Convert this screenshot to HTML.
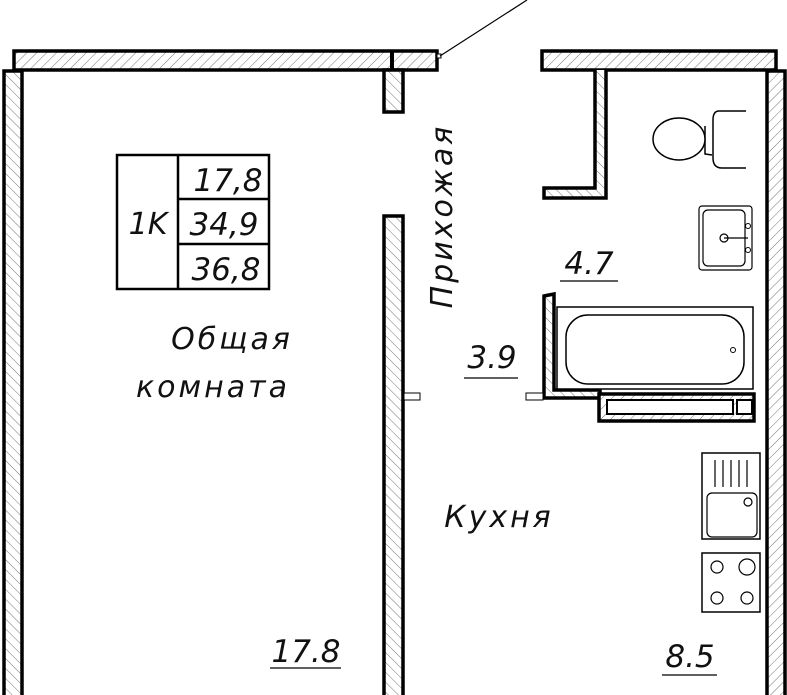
<!DOCTYPE html>
<html><head><meta charset="utf-8"><style>
body{margin:0;background:#fff}
svg{display:block}
text{font-family:"DejaVu Sans","Liberation Sans",sans-serif;font-style:oblique;fill:#111}
.l{letter-spacing:3px}
</style></head><body>
<svg width="787" height="695" viewBox="0 0 787 695" xmlns="http://www.w3.org/2000/svg">
<defs>
<pattern id="h1" width="7" height="7" patternUnits="userSpaceOnUse" patternTransform="rotate(45)"><rect width="7" height="7" fill="#fff"/><line x1="0" y1="0" x2="0" y2="7" stroke="#777" stroke-width="1"/></pattern>
<pattern id="h2" width="7" height="7" patternUnits="userSpaceOnUse" patternTransform="rotate(-45)"><rect width="7" height="7" fill="#fff"/><line x1="0" y1="0" x2="0" y2="7" stroke="#777" stroke-width="1"/></pattern>
</defs>
<g stroke="#000" stroke-width="3.5">
<rect x="14" y="51" width="423" height="19" fill="url(#h1)"/>
<rect x="4" y="71" width="18" height="630" fill="url(#h2)"/>
<rect x="384" y="70" width="19" height="42" fill="url(#h2)"/>
<rect x="384" y="216" width="19" height="485" fill="url(#h2)"/>
<rect x="542" y="51" width="234" height="19" fill="url(#h1)"/>
<rect x="767" y="71" width="18" height="630" fill="url(#h1)"/>
<path d="M595 70 V188 H544 V198 H606 V70" fill="url(#h2)"/>
<path d="M544 296 L554 294 V390 H600 V398 H544 Z" fill="url(#h2)"/>
<rect x="599" y="394" width="155" height="27" fill="url(#h1)"/>
</g>
<line x1="392" y1="51" x2="392" y2="70" stroke="#000" stroke-width="4"/>
<g fill="#fff" stroke="#000" stroke-width="2">
<rect x="607" y="400" width="126" height="14"/>
<rect x="737" y="400" width="15" height="14"/>
<rect x="557" y="307" width="196" height="82" stroke-width="1.5"/>
<rect x="566" y="315" width="178" height="69" rx="22" stroke-width="1.5"/>
<circle cx="733" cy="350" r="2.5" stroke-width="1"/>
<path d="M705 126 V154 L712 155" stroke-width="1.5" fill="none"/>
<ellipse cx="679" cy="139" rx="26" ry="21" stroke-width="1.5"/>
<path d="M746 111 H719 Q713 111 713 120 V158 Q713 168 722 168 H746" stroke-width="1.5"/>
<rect x="699" y="206" width="53" height="64" rx="3" stroke-width="1.2"/>
<rect x="703" y="210" width="42" height="56" rx="5" stroke-width="1.2"/>
<circle cx="724" cy="238" r="4" stroke-width="1.2"/>
<line x1="724" y1="238" x2="748" y2="238" stroke-width="1.2"/>
<circle cx="748" cy="226" r="2.5" stroke-width="1"/><circle cx="748" cy="250" r="2.5" stroke-width="1"/>
<rect x="702" y="453" width="58" height="86" stroke-width="1.5"/>
<rect x="707" y="493" width="50" height="44" rx="5" stroke-width="1.2"/>
<circle cx="748" cy="502" r="4" stroke-width="1.2"/>
<rect x="702" y="553" width="58" height="59" stroke-width="1.5"/>
<circle cx="717" cy="567" r="6" stroke-width="1.2"/><circle cx="747" cy="567" r="8" stroke-width="1.2"/>
<circle cx="717" cy="598" r="6" stroke-width="1.2"/><circle cx="747" cy="598" r="6" stroke-width="1.2"/>
<rect x="404" y="393" width="16" height="7" stroke-width="1"/>
<rect x="526" y="393" width="17" height="7" stroke-width="1"/>
<rect x="437" y="54" width="4" height="4" stroke-width="1"/>
</g>
<g stroke="#000" stroke-width="1.2">
<line x1="715" y1="460" x2="715" y2="487"/><line x1="723" y1="460" x2="723" y2="487"/><line x1="731" y1="460" x2="731" y2="487"/><line x1="739" y1="460" x2="739" y2="487"/><line x1="747" y1="460" x2="747" y2="487"/>
<line x1="440" y1="56" x2="527" y2="0"/>
<line x1="560" y1="281" x2="618" y2="281"/>
<line x1="464" y1="378" x2="518" y2="378"/>
<line x1="270" y1="668" x2="341" y2="668"/>
<line x1="662" y1="675" x2="717" y2="675"/>
</g>
<g fill="#fff" stroke="#000" stroke-width="2.5">
<rect x="117" y="155" width="152" height="134"/>
<line x1="178" y1="155" x2="178" y2="289"/>
<line x1="178" y1="199" x2="269" y2="199"/>
<line x1="178" y1="244" x2="269" y2="244"/>
</g>
<text x="148" y="234" font-size="30" text-anchor="middle">1K</text>
<text x="228" y="191" font-size="31" text-anchor="middle">17,8</text>
<text x="224" y="235" font-size="31" text-anchor="middle">34,9</text>
<text x="226" y="280" font-size="31" text-anchor="middle">36,8</text>
<text class="l" x="232" y="349" font-size="30" text-anchor="middle">Общая</text>
<text class="l" x="213" y="397" font-size="30" text-anchor="middle">комната</text>
<text class="l" transform="translate(452,216) rotate(-90)" font-size="30" text-anchor="middle">Прихожая</text>
<text x="589" y="274" font-size="31" text-anchor="middle">4.7</text>
<text x="492" y="368" font-size="31" text-anchor="middle">3.9</text>
<text class="l" x="499" y="527" font-size="30" text-anchor="middle">Кухня</text>
<text x="306" y="662" font-size="31" text-anchor="middle">17.8</text>
<text x="690" y="667" font-size="31" text-anchor="middle">8.5</text>
</svg>
</body></html>
